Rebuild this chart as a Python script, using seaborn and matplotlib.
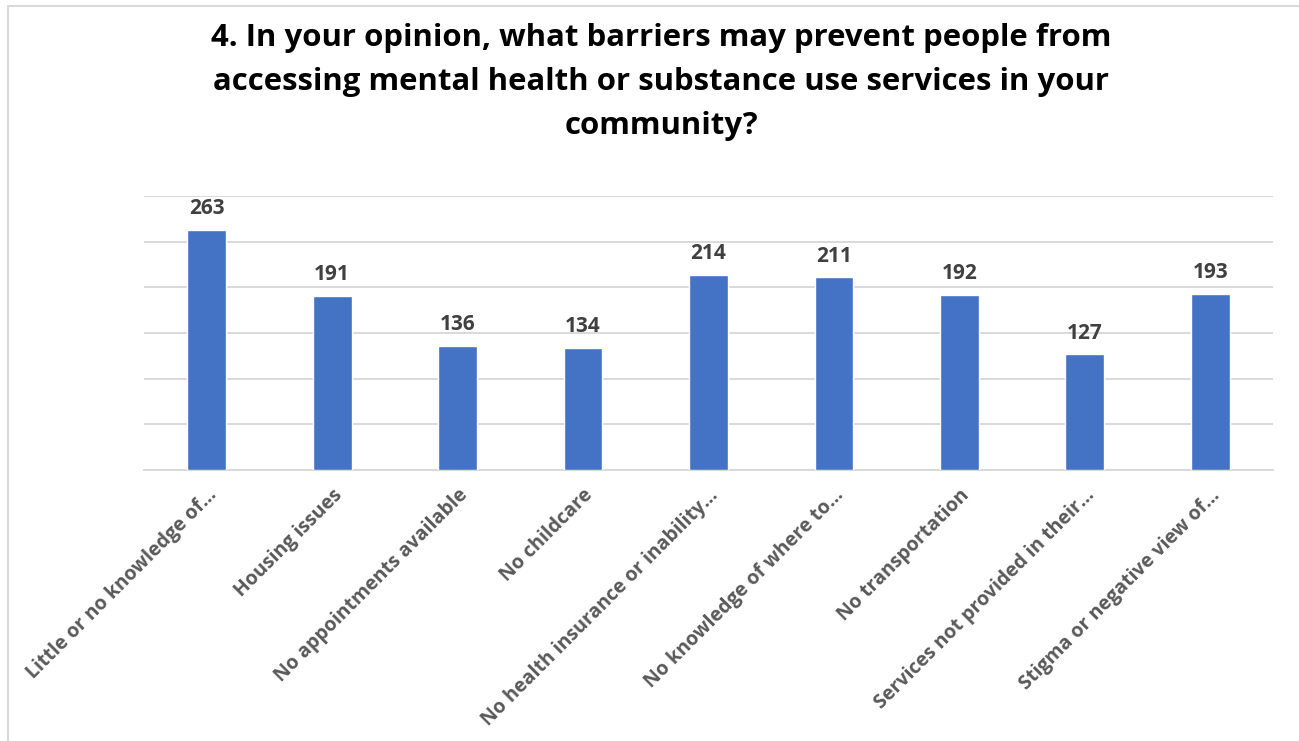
import matplotlib
matplotlib.use("Agg")
import matplotlib.pyplot as plt
import seaborn as sns
import pandas as pd
from matplotlib.patches import Rectangle

categories = [
    "Little or no knowledge of…",
    "Housing issues",
    "No appointments available",
    "No childcare",
    "No health insurance or inability…",
    "No knowledge of where to…",
    "No transportation",
    "Services not provided in their…",
    "Stigma or negative view of…",
]
counts = [263, 191, 136, 134, 214, 211, 192, 127, 193]
title = ("4. In your opinion, what barriers may prevent people from\n"
         "accessing mental health or substance use services in your\n"
         "community?")

df = pd.DataFrame({"barrier": categories, "count": counts})

sns.set_theme(style="white")
plt.rcParams["font.family"] = ["Open Sans", "DejaVu Sans"]

fig = plt.figure(figsize=(12.99, 7.41), dpi=100)
ax = fig.add_axes([144 / 1299, 1 - 470 / 741, (1273 - 144) / 1299, (470 - 196) / 741])

sns.barplot(data=df, x="barrier", y="count", color="#4472c4", saturation=1,
            width=0.31, ax=ax, zorder=3)

ax.set_ylim(0, 300)
ax.set_yticks(range(0, 301, 50))
ax.set_yticklabels([])
ax.tick_params(axis="y", length=0)
ax.yaxis.grid(True, color="#d9d9d9", linewidth=1.4, zorder=0)
ax.xaxis.grid(False)
for side in ("top", "right", "left"):
    ax.spines[side].set_visible(False)
ax.spines["bottom"].set_color("#d9d9d9")
ax.spines["bottom"].set_linewidth(1.4)
ax.set_xlabel("")
ax.set_ylabel("")
ax.set_xlim(-0.5, len(categories) - 0.5)

ax.tick_params(axis="x", length=0, pad=11)
for lbl in ax.get_xticklabels():
    lbl.set_rotation(45)
    lbl.set_ha("right")
    lbl.set_rotation_mode("anchor")
    lbl.set_fontsize(14)
    lbl.set_fontweight("bold")
    lbl.set_color("#595959")

for cont in ax.containers:
    ax.bar_label(cont, labels=[str(v) for v in counts], padding=7.5,
                 fontsize=15, fontweight="bold", color="#404040")

fig.text(661 / 1299, 1 - 82 / 741, title, ha="center", va="center",
         fontsize=22.4, fontweight="bold", color="black", linespacing=1.62)

# outer chart frame
fig.patches.append(Rectangle((8 / 1299, -0.01), 1.0, 1 - 6 / 741 + 0.01,
                             transform=fig.transFigure, fill=False,
                             edgecolor="#d9d9d9", linewidth=1.5))

fig.savefig("out.png", dpi=100, facecolor="white")
